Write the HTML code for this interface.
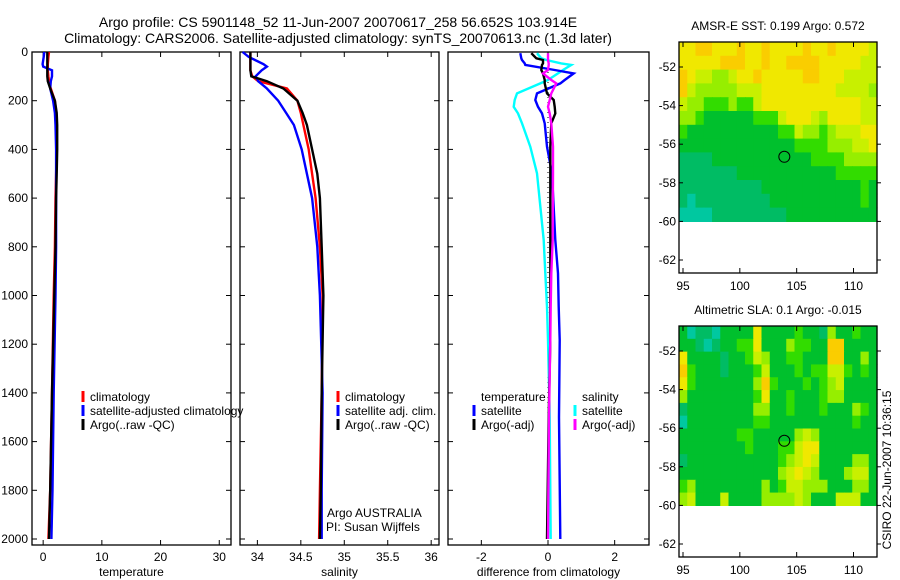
<!DOCTYPE html>
<html><head><meta charset="utf-8"><style>
body{margin:0;background:#fff;}
svg{display:block;font-family:"Liberation Sans",sans-serif;}
</style></head><body>
<svg id="c" width="900" height="580" viewBox="0 0 900 580">
<text x="338" y="27" font-size="14" text-anchor="middle">Argo profile: CS 5901148_52 11-Jun-2007 20070617_258 56.652S 103.914E</text>
<text x="338" y="43" font-size="14" text-anchor="middle">Climatology: CARS2006. Satellite-adjusted climatology: synTS_20070613.nc (1.3d later)</text>
</svg>
<script>
// ---- data ----
const depthGrid=[0,20,50,60,75,100,120,150,200,250,300,400,500,600,800,1000,1400,1800,2000];
const tempArgo=[0.7,0.7,0.7,0.7,0.7,0.7,0.8,1.2,2.0,2.3,2.4,2.4,2.3,2.2,2.1,1.9,1.5,1.2,1.0];
const tempClim=[1.0,0.9,0.8,0.8,0.8,0.9,1.0,1.3,2.0,2.2,2.3,2.3,2.2,2.1,2.0,1.8,1.5,1.2,0.9];
const tempSat=[0.2,0.1,-0.1,0.0,1.5,1.5,1.3,1.2,1.7,2.0,2.1,2.2,2.2,2.2,2.2,2.1,1.8,1.6,1.4];
const salArgo=[33.92,33.92,33.92,33.92,33.92,33.93,34.11,34.30,34.46,34.52,34.57,34.63,34.69,34.72,34.74,34.76,34.74,34.73,34.72];
const salClim=[33.92,33.92,33.92,33.92,33.92,33.94,34.01,34.34,34.46,34.50,34.53,34.59,34.63,34.67,34.72,34.75,34.74,34.72,34.71];
const salSat=[33.83,33.90,34.07,34.11,34.05,33.98,34.01,34.11,34.24,34.33,34.42,34.51,34.57,34.63,34.69,34.72,34.75,34.74,34.74];
const diffDepth=[5,26,33,47,53,74,88,115,129,170,197,225,252,293,389,498,772,909,1046,1183,1500,2000];
const dTempSat=[-0.83,-0.8,-0.78,-0.7,-0.68,0.2,0.77,0.5,0.37,-0.33,-0.38,-0.3,-0.18,-0.1,-0.03,0.12,0.22,0.3,0.32,0.35,0.33,0.37];
const dTempArgo=[-0.5,-0.35,-0.15,-0.15,-0.18,-0.2,-0.15,-0.1,-0.1,-0.03,0.17,0.2,0.22,0.1,0.07,0.07,0.07,0.07,0.07,0.07,0.02,-0.03];
const dSalSat=[-0.33,-0.2,-0.05,0.4,0.7,0.45,0.3,0.0,-0.23,-0.93,-1.0,-1.03,-0.9,-0.78,-0.53,-0.33,-0.13,-0.08,-0.03,0.0,0.05,0.08];
const dSalArgo=[0.0,0.0,0.0,0.02,0.02,0.0,-0.15,0.1,0.25,0.1,0.05,0.0,0.05,0.1,0.15,0.15,0.14,0.1,0.08,0.07,0.03,0.0];
const tTicks=[0,10,20,30], sTicks=[34,34.5,35,35.5,36], dTicks=[-2,0,2];
const pTicks=[0,200,400,600,800,1000,1200,1400,1600,1800,2000];
const lonTicks=[95,100,105,110], latTicks=[-52,-54,-56,-58,-60,-62];
const sstGrid=["667766676676666766766665","666667776676677776666655","765544566766666776665555","754444455566666666655554","544333433566666666666655","443222222333566654666655","322222222222335443455566","222222222222223333444556","111122222222222233334444","111111122222222222233333","111111111122222222222232","101111111112222222222232","000011111111122222222222"];
const slaGrid=["201102222622223221422322","221012233622243322772222","622221223542233222772242","732221222352223233553232","632222222473222323452222","422222222362232223442222","122222222442232223222432","022222222332222222222322","222222233222224542222222","222222223222335662222222","122222222222345652222442","222222222222456542224552","342222222242355444222442","452225222244445422255522"];
const argoLon=103.914, argoLat=-56.652;
// ---- drawing ----
const NS="http://www.w3.org/2000/svg", svg=document.getElementById('c');
function mk(t,a,p){const e=document.createElementNS(NS,t);for(const k in a)e.setAttribute(k,a[k]);(p||svg).appendChild(e);return e;}
const palette=["rgb(0,200,160)","rgb(0,188,100)","rgb(0,192,45)","rgb(50,220,0)","rgb(150,238,0)","rgb(200,240,0)","rgb(240,232,0)","rgb(250,205,0)","rgb(245,165,0)"];
const py=d=>52+d*0.2435;
function panel(name,x0,x1,dmin,dmax,ticks,label,showY){
  const sx=v=>x0+(v-dmin)/(dmax-dmin)*(x1-x0);
  const g=mk('g',{});
  
  
  mk('rect',{x:x0,y:52,width:x1-x0,height:493,fill:'none',stroke:'#000','stroke-width':1.3},g);
  ticks.forEach(t=>{const x=sx(t);
    mk('line',{x1:x,x2:x,y1:545,y2:540,stroke:'#000'},g);mk('line',{x1:x,x2:x,y1:52,y2:57,stroke:'#000'},g);
    const tx=mk('text',{x:x,y:561,'font-size':12,'text-anchor':'middle'},g);tx.textContent=t;
    
    });
  pTicks.forEach(p=>{const y=py(p);
    mk('line',{x1:x0,x2:x0+5,y1:y,y2:y,stroke:'#000'},g);mk('line',{x1:x1,x2:x1-5,y1:y,y2:y,stroke:'#000'},g);
    if(showY){const tx=mk('text',{x:28,y:y+4,'font-size':12,'text-anchor':'end'},g);tx.textContent=p;
      
      }});
  const lt=mk('text',{x:(x0+x1)/2,y:576,'font-size':12,'text-anchor':'middle'},g);lt.textContent=label;
  
  
  return {sx,g};
}
function series(P,depths,vals,color,name){
  const pts=vals.map((v,i)=>P.sx(v).toFixed(1)+','+py(depths[i]).toFixed(1)).join(' ');
  const l=mk('polyline',{points:pts,fill:'none',stroke:color,'stroke-width':2.4},P.g);
  
  
}
function legend(g,x,y,color,txt){
  mk('line',{x1:x,x2:x,y1:y-10,y2:y+1,stroke:color,'stroke-width':3},g);
  if(txt){const t=mk('text',{x:x+7,y:y,'font-size':12},g);t.textContent=txt;
  
  }
}
function txt(g,x,y,s){const t=mk('text',{x:x,y:y,'font-size':12},g);t.textContent=s;
  
  }
const P1=panel('temperature-panel',32,231,-1.9,32,tTicks,'temperature',true);
series(P1,depthGrid,tempClim,'#f00','temp-climatology-line');
series(P1,depthGrid,tempSat,'#00f','temp-satellite-line');
series(P1,depthGrid,tempArgo,'#000','temp-argo-line');
legend(P1.g,83,401,'#f00','climatology');legend(P1.g,83,415,'#00f','satellite-adjusted climatology');legend(P1.g,83,429,'#000','Argo(..raw -QC)');
const P2=panel('salinity-panel',240,439,33.8,36.09,sTicks,'salinity',false);
series(P2,depthGrid,salClim,'#f00','sal-climatology-line');
series(P2,depthGrid,salSat,'#00f','sal-satellite-line');
series(P2,depthGrid,salArgo,'#000','sal-argo-line');
legend(P2.g,338,401,'#f00','climatology');legend(P2.g,338,415,'#00f','satellite adj. clim.');legend(P2.g,338,429,'#000','Argo(..raw -QC)');
txt(P2.g,327,517,'Argo AUSTRALIA');txt(P2.g,326,531,'PI: Susan Wijffels');
const P3=panel('difference-panel',448,649,-3.0,3.03,dTicks,'difference from climatology',false);
mk('line',{x1:P3.sx(0),x2:P3.sx(0),y1:py(0),y2:py(2000),stroke:'#000','stroke-dasharray':'1,4'},P3.g);
series(P3,diffDepth,dSalSat,'#0ff','diff-sal-satellite-line');
series(P3,diffDepth,dTempSat,'#00f','diff-temp-satellite-line');
series(P3,diffDepth,dTempArgo,'#000','diff-temp-argo-line');
series(P3,diffDepth,dSalArgo,'#f0f','diff-sal-argo-line');
txt(P3.g,481,401,'temperature');legend(P3.g,474,415,'#00f','satellite');legend(P3.g,474,429,'#000','Argo(-adj)');
txt(P3.g,582,401,'salinity');legend(P3.g,575,415,'#0ff','satellite');legend(P3.g,575,429,'#f0f','Argo(-adj)');
function map(name,top,bot,lat52,lat62,grid,title){
  const x0=679,x1=877;
  const sx=lon=>683+(lon-95)*(853.5-683)/15;
  const sy=lat=>lat52+(lat+52)/(-10)*(lat62-lat52);
  const g=mk('g',{});
  
  
  const lonL=95+(x0-683)/((853.5-683)/15), lonR=95+(x1-683)/((853.5-683)/15);
  const latTop=-52+(lat52-top)/((lat62-lat52)/10);
  const rows=grid.length, cols=grid[0].length;
  const dLat=(latTop-(-60))/rows, dLon=(lonR-lonL)/cols;
  grid.forEach((row,r)=>{for(let c=0;c<cols;c++){
    const xa=sx(lonL+c*dLon), xb=sx(lonL+(c+1)*dLon), ya=sy(latTop-r*dLat), yb=sy(latTop-(r+1)*dLat);
    const cell=mk('rect',{x:xa,y:ya,width:xb-xa+0.6,height:yb-ya+0.6,fill:palette[+row[c]]},g);
    
    }});
  mk('rect',{x:x0,y:top,width:x1-x0,height:bot-top,fill:'none',stroke:'#000','stroke-width':1.3},g);
  lonTicks.forEach(l=>{const x=sx(l);mk('line',{x1:x,x2:x,y1:bot,y2:bot-5,stroke:'#000'},g);mk('line',{x1:x,x2:x,y1:top,y2:top+5,stroke:'#000'},g);
    const t=mk('text',{x:x,y:bot+17,'font-size':12,'text-anchor':'middle'},g);t.textContent=l;
    
    });
  latTicks.forEach(l=>{const y=sy(l);mk('line',{x1:x0,x2:x0+4,y1:y,y2:y,stroke:'#000'},g);mk('line',{x1:x1,x2:x1+4,y1:y,y2:y,stroke:'#000'},g);
    const t=mk('text',{x:676,y:y+4,'font-size':12,'text-anchor':'end'},g);t.textContent=l;
    
    });
  const c=mk('circle',{cx:sx(argoLon),cy:sy(argoLat),r:5.5,fill:'none',stroke:'#000','stroke-width':1},g);
  
  
  const t=mk('text',{x:(x0+x1)/2,y:top-12,'font-size':12,'text-anchor':'middle'},g);t.textContent=title;
  
  
}
map('sst-map',42,273,67,260,sstGrid,'AMSR-E SST: 0.199 Argo: 0.572');
map('sla-map',326,557,351,544,slaGrid,'Altimetric SLA: 0.1 Argo: -0.015');
const ts=mk('text',{transform:'translate(891,470) rotate(-90)','font-size':12,'text-anchor':'middle'});
ts.textContent='CSIRO 22-Jun-2007 10:36:15';


</script>
</body></html>
